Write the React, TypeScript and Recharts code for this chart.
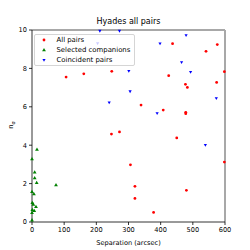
import { ScatterChart, Scatter, XAxis, YAxis, ReferenceLine, Legend, Label } from "recharts";

// All pairs (red dots)
const allSep = [106, 161, 248, 247, 272, 437, 576, 541, 598, 425, 477, 483, 574, 339, 408, 478, 478, 450, 306, 320, 320, 598, 480, 378];
const allN = [7.55, 7.72, 7.85, 4.58, 4.69, 9.29, 9.24, 8.89, 7.83, 7.62, 7.17, 7.01, 7.27, 6.09, 5.83, 5.71, 5.64, 4.38, 2.98, 1.86, 1.23, 3.12, 1.65, 0.5];

// Selected companions (green triangles)
const selSep = [15.5, 0, 8.3, 8.3, 14.5, 74.6, 0, 6, 1, 4, 12.4, 1, 7, 0, 0];
const selN = [3.78, 3.28, 2.59, 2.29, 2.05, 1.93, 1.58, 1.46, 1.0, 0.92, 0.8, 0.64, 0.59, 0.48, 0.1];

// Coincident pairs (blue down triangles)
const coSep = [211, 272, 204, 301, 305, 240, 479, 398, 465, 493, 573, 389, 539];
const coN = [9.95, 9.95, 9.3, 7.86, 6.8, 6.22, 9.72, 9.29, 8.32, 7.81, 6.44, 5.66, 4.01];

const xTicks = [0, 100, 200, 300, 400, 500, 600];
const yTicks = [0, 2, 4, 6, 8, 10];

const FONT = "DejaVu Sans, sans-serif";
const RED = "#ff0000";
const GREEN = "#008000";
const BLUE = "#0000ff";

const toPoints = (xs: number[], ys: number[]) => xs.map((x, i) => ({ sep: x, n: ys[i] }));

const Dot = (p: any) => <circle cx={p.cx} cy={p.cy} r={1.4} fill={RED} />;
const TriUp = (p: any) => (
  <path d={`M${p.cx},${p.cy - 2}L${p.cx + 1.9},${p.cy + 1.3}L${p.cx - 1.9},${p.cy + 1.3}Z`} fill={GREEN} />
);
const TriDown = (p: any) => (
  <path d={`M${p.cx},${p.cy + 1.7}L${p.cx + 1.6},${p.cy - 1.1}L${p.cx - 1.6},${p.cy - 1.1}Z`} fill={BLUE} />
);

const items = [
  { name: "All pairs", marker: <circle cx={5} cy={5} r={1.4} fill={RED} /> },
  { name: "Selected companions", marker: <path d="M5,3L6.9,6.3L3.1,6.3Z" fill={GREEN} /> },
  { name: "Coincident pairs", marker: <path d="M5,6.7L6.6,3.9L3.4,3.9Z" fill={BLUE} /> },
];

const LegendBox = () => (
  <div
    style={{
      width: 101,
      height: 32,
      boxSizing: "border-box",
      background: "rgba(255,255,255,0.8)",
      border: "1px solid #d5d5d5",
      borderRadius: 2,
      fontFamily: FONT,
      fontSize: 6.9,
      color: "#000",
      whiteSpace: "nowrap",
    }}
  >
    {items.map((it) => (
      <div key={it.name} style={{ height: 10, display: "flex", alignItems: "center" }}>
        <svg width={10} height={10} style={{ marginLeft: 3.5, marginRight: 8 }}>
          {it.marker}
        </svg>
        <span style={{ lineHeight: "10px" }}>{it.name}</span>
      </div>
    ))}
  </div>
);

const YLabel = () => (
  <text x={13} y={125} transform="rotate(-90 13 125)" textAnchor="middle" fontSize={6.8} fontFamily={FONT} fill="#000">
    n<tspan fontSize={5} dy={1.7}>σ</tspan>
  </text>
);

export default function App() {
  const tick = { fill: "#000", fontSize: 6.6, fontFamily: FONT };
  return (
    <div style={{ position: "absolute", left: 0, top: 0, width: 250, height: 250, background: "#fff" }}>
      <div
        style={{
          position: "absolute",
          top: 17,
          left: 32,
          width: 193,
          textAlign: "center",
          fontFamily: FONT,
          fontSize: 8,
          lineHeight: "10px",
          color: "#000",
        }}
      >
        Hyades all pairs
      </div>
      <ScatterChart width={250} height={250} margin={{ top: 30, right: 25, bottom: 0, left: 0 }}>
        <XAxis
          type="number"
          dataKey="sep"
          domain={[0, 600]}
          ticks={xTicks}
          height={28}
          tickSize={3}
          tickMargin={2}
          tick={tick}
          stroke="#000"
          strokeWidth={0.8}
        >
          <Label value="Separation (arcsec)" position="insideBottom" offset={5} fontSize={6.6} fontFamily={FONT} fill="#000" />
        </XAxis>
        <YAxis
          type="number"
          dataKey="n"
          domain={[0, 10]}
          ticks={yTicks}
          width={32}
          tickSize={3}
          tickMargin={2}
          tick={tick}
          stroke="#000"
          strokeWidth={0.8}
          label={<YLabel />}
        />
        <ReferenceLine y={10} stroke="#a8a8a8" strokeWidth={2} />
        <ReferenceLine x={600} stroke="#a8a8a8" strokeWidth={2} />
        <Scatter name="All pairs" data={toPoints(allSep, allN)} shape={Dot} isAnimationActive={false} />
        <Scatter name="Selected companions" data={toPoints(selSep, selN)} shape={TriUp} isAnimationActive={false} />
        <Scatter name="Coincident pairs" data={toPoints(coSep, coN)} shape={TriDown} isAnimationActive={false} />
        <Legend
          layout="vertical"
          align="center"
          verticalAlign="middle"
          content={<LegendBox />}
          wrapperStyle={{ left: 34, top: 34, width: 101, height: 32 }}
        />
      </ScatterChart>
    </div>
  );
}
